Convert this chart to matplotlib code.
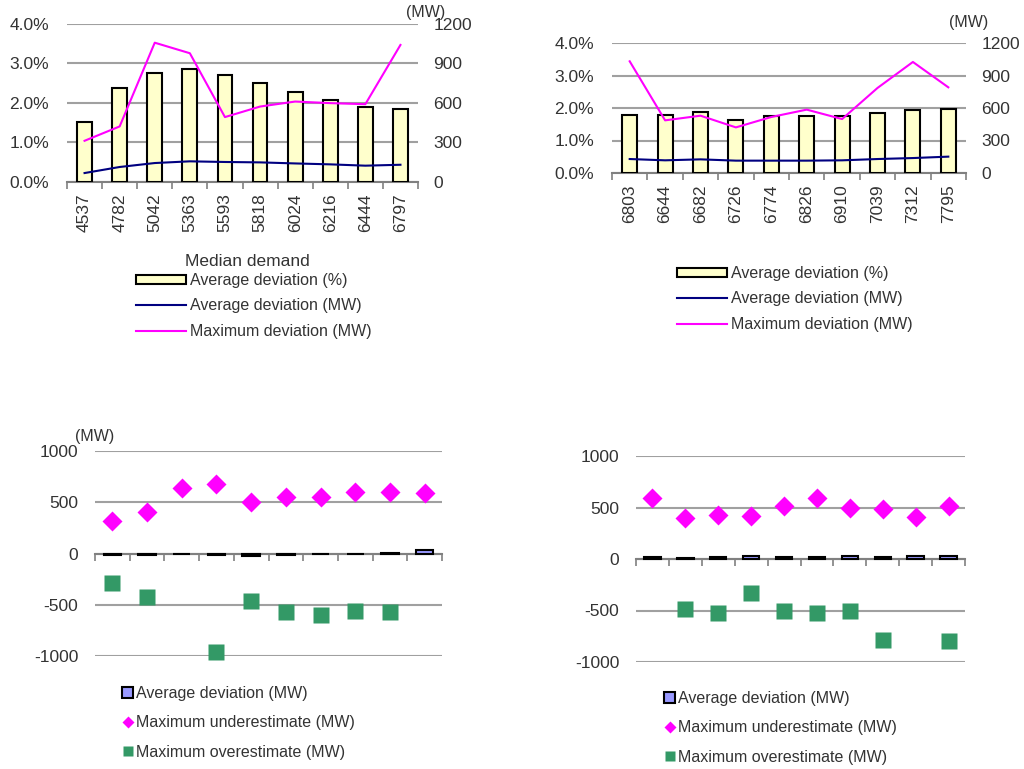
import numpy as np
import matplotlib.pyplot as plt
from matplotlib.lines import Line2D
from matplotlib.patches import Patch

plt.rcParams['font.family'] = ['Liberation Sans', 'DejaVu Sans']
plt.rcParams['axes.unicode_minus'] = False

# top left: grouped by median demand
demand_a = ['4537', '4782', '5042', '5363', '5593', '5818', '6024', '6216', '6444', '6797']
pct_a = [1.52, 2.37, 2.77, 2.85, 2.70, 2.50, 2.29, 2.08, 1.89, 1.85]
avg_a = [68, 114, 144, 157, 152, 149, 141, 134, 124, 131]
max_a = [313, 422, 1058, 978, 493, 573, 611, 599, 591, 1041]

# top right
demand_b = ['6803', '6644', '6682', '6726', '6774', '6826', '6910', '7039', '7312', '7795']
pct_b = [1.77, 1.77, 1.88, 1.64, 1.74, 1.74, 1.74, 1.85, 1.93, 1.97]
avg_b = [129, 117, 126, 114, 114, 114, 117, 129, 138, 151]
max_b = [1031, 486, 529, 421, 517, 585, 498, 785, 1025, 791]

# bottom left
bias_c = [-15, -15, -8, -12, -25, -15, -8, -8, 8, 30]
under_c = [318, 406, 643, 682, 500, 552, 552, 601, 601, 588]
over_c = [-292, -422, np.nan, -964, -464, -568, -601, -558, -568, np.nan]

# bottom right
bias_d = [15, 5, 15, 25, 15, 15, 25, 15, 30, 30]
under_d = [594, 399, 432, 422, 513, 594, 494, 481, 406, 513]
over_d = [np.nan, -481, -526, -331, -503, -526, -503, -786, np.nan, -795]

txt = '#333333'
gridc = '#a0a0a0'
W, H = 1024, 769

fig = plt.figure(figsize=(10.24, 7.69), dpi=100)


def box(l, t, r, b):
    return [l / W, 1 - b / H, (r - l) / W, (b - t) / H]


def top_panel(rect, cats, pct, avg, mx, leg_xy):
    ax = fig.add_axes(rect)
    x = np.arange(len(cats))
    ax.bar(x, pct, width=0.42, color='#ffffcc', edgecolor='black', lw=1.5, zorder=3)
    ax.set_xlim(-0.5, len(cats) - 0.5)
    ax.set_ylim(0, 4)
    ax.set_yticks([0, 1, 2, 3, 4])
    ax.set_yticklabels(['%.1f%%' % v for v in [0, 1, 2, 3, 4]])
    ax.yaxis.grid(True, color=gridc, lw=1.5)
    ax.set_axisbelow(True)
    ax.set_xticks(x)
    ax.set_xticklabels(cats, rotation=90)
    ax.set_xticks(np.arange(-0.5, len(cats), 1), minor=True)
    ax.tick_params(axis='x', which='major', length=0, pad=8, labelsize=12.5, colors=txt)
    ax.tick_params(axis='x', which='minor', length=5, width=1.2, color='#808080')
    ax.tick_params(axis='y', length=0, pad=13, labelsize=12.5, colors=txt)
    for s in ['left', 'right', 'top']:
        ax.spines[s].set_visible(False)
    ax.spines['bottom'].set_color('#808080')
    ax.spines['bottom'].set_linewidth(1.5)

    ax2 = ax.twinx()
    ax2.plot(x, avg, color='#000080', lw=1.5)
    ax2.plot(x, mx, color='#ff00ff', lw=1.5)
    ax2.set_ylim(0, 1200)
    ax2.set_yticks([0, 300, 600, 900, 1200])
    ax2.tick_params(axis='y', length=0, pad=11, labelsize=12.5, colors=txt)
    for s in ax2.spines.values():
        s.set_visible(False)

    handles = [Patch(facecolor='#ffffcc', edgecolor='black', lw=1.5),
               Line2D([], [], color='#000080', lw=1.5),
               Line2D([], [], color='#ff00ff', lw=1.5)]
    labels = ['Average deviation (%)', 'Average deviation (MW)', 'Maximum deviation (MW)']
    ax.legend(handles, labels, loc='upper left', bbox_to_anchor=leg_xy,
              bbox_transform=fig.transFigure, frameon=False, fontsize=11.5,
              handlelength=3.1, handleheight=0.55, handletextpad=0.25,
              labelspacing=0.65, borderpad=0, borderaxespad=0, labelcolor=txt)
    return ax


def bottom_panel(rect, bias, under, over, leg_xy):
    ax = fig.add_axes(rect)
    x = np.arange(len(bias))
    ax.bar(x, bias, width=0.5, color='#9999ff', edgecolor='black', lw=1.5, zorder=3)
    ax.plot(x, under, 'D', color='#ff00ff', ms=10, mec='none', zorder=4, clip_on=False)
    ax.plot(x, over, 's', color='#339966', ms=11, mec='none', zorder=4, clip_on=False)
    ax.set_xlim(-0.5, len(bias) - 0.5)
    ax.set_ylim(-1000, 1000)
    ax.set_yticks([-1000, -500, 0, 500, 1000])
    ax.yaxis.grid(True, color=gridc, lw=1.5)
    ax.set_axisbelow(True)
    ax.set_xticks(np.arange(-0.5, len(bias), 1))
    ax.set_xticklabels([])
    ax.tick_params(axis='x', length=5, width=1.2, color='#808080')
    ax.tick_params(axis='y', length=0, pad=12, labelsize=12.5, colors=txt)
    for s in ['left', 'right', 'top']:
        ax.spines[s].set_visible(False)
    ax.spines['bottom'].set_position(('data', 0))
    ax.spines['bottom'].set_color('#808080')
    ax.spines['bottom'].set_linewidth(1.5)

    handles = [Patch(facecolor='#9999ff', edgecolor='black', lw=1.5),
               Line2D([], [], ls='none', marker='D', color='#ff00ff', ms=6, mec='none'),
               Line2D([], [], ls='none', marker='s', color='#339966', ms=7, mec='none')]
    labels = ['Average deviation (MW)', 'Maximum underestimate (MW)', 'Maximum overestimate (MW)']
    ax.legend(handles, labels, loc='upper left', bbox_to_anchor=leg_xy,
              bbox_transform=fig.transFigure, frameon=False, fontsize=11.5,
              handlelength=0.7, handleheight=0.7, handletextpad=0.15,
              labelspacing=0.9, borderpad=0, borderaxespad=0, labelcolor=txt)
    return ax


top_panel(box(67, 24, 418, 182), demand_a, pct_a, avg_a, max_a, (136 / W, 1 - 273 / H))
top_panel(box(612, 43, 966, 173), demand_b, pct_b, avg_b, max_b, (677 / W, 1 - 266 / H))
bottom_panel(box(95, 451, 442, 656), bias_c, under_c, over_c, (122 / W, 1 - 686 / H))
bottom_panel(box(636, 456, 965, 662), bias_d, under_d, over_d, (664 / W, 1 - 691 / H))

fig.text(247 / W, 1 - 262 / H, 'Median demand', ha='center', va='center', fontsize=12.5, color=txt)
fig.text(426 / W, 1 - 13 / H, '(MW)', ha='center', va='center', fontsize=11.5, color=txt)
fig.text(969 / W, 1 - 22 / H, '(MW)', ha='center', va='center', fontsize=11.5, color=txt)
fig.text(95 / W, 1 - 436 / H, '(MW)', ha='center', va='center', fontsize=11.5, color=txt)

fig.savefig('out.png', dpi=100)
